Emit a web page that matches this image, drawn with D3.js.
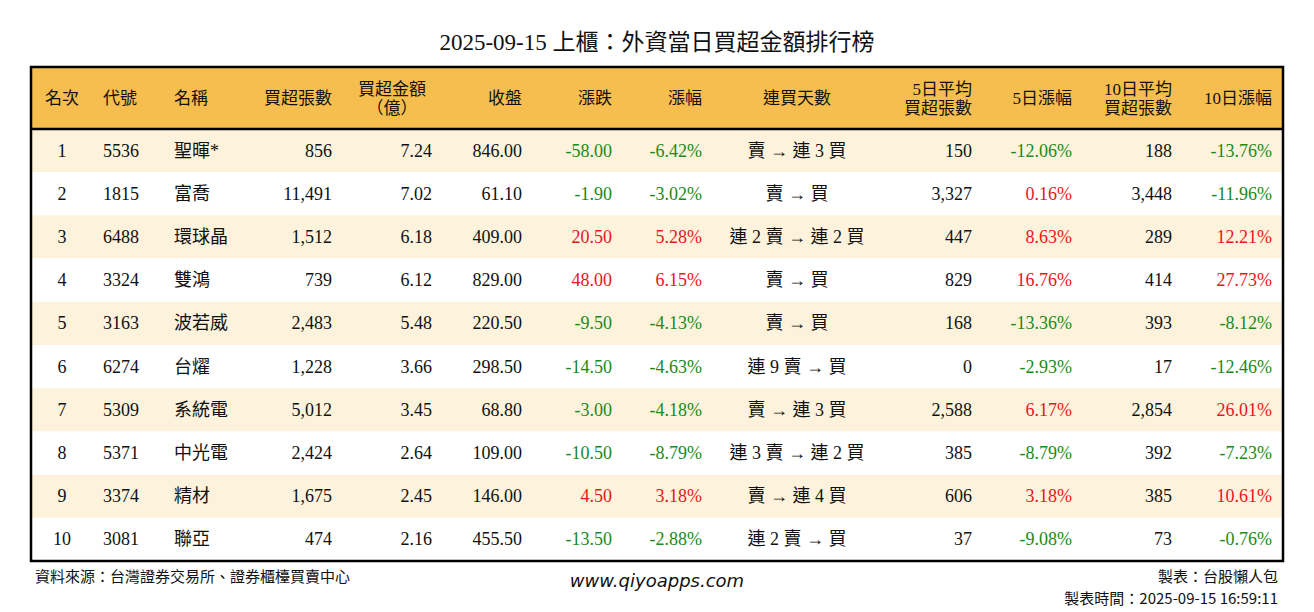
<!DOCTYPE html>
<html><head><meta charset="utf-8">
<script src="https://cdn.jsdelivr.net/npm/d3@7"></script>
<style>body{margin:0;background:#fff}</style></head>
<body><svg id="c" width="1314" height="612"></svg>
<script>
const ranks=[1,2,3,4,5,6,7,8,9,10];
const codes=["5536","1815","6488","3324","3163","6274","5309","5371","3374","3081"];
const names=["聖暉*","富喬","環球晶","雙鴻","波若威","台燿","系統電","中光電","精材","聯亞"];
const buyLots=["856","11,491","1,512","739","2,483","1,228","5,012","2,424","1,675","474"];
const buyAmt=["7.24","7.02","6.18","6.12","5.48","3.66","3.45","2.64","2.45","2.16"];
const closes=["846.00","61.10","409.00","829.00","220.50","298.50","68.80","109.00","146.00","455.50"];
const changes=[-58.00,-1.90,20.50,48.00,-9.50,-14.50,-3.00,-10.50,4.50,-13.50];
const pcts=[-6.42,-3.02,5.28,6.15,-4.13,-4.63,-4.18,-8.79,3.18,-2.88];
const streaks=["賣 → 連 3 買","賣 → 買","連 2 賣 → 連 2 買","賣 → 買","賣 → 買","連 9 賣 → 買","賣 → 連 3 買","連 3 賣 → 連 2 買","賣 → 連 4 買","連 2 賣 → 買"];
const avg5=["150","3,327","447","829","168","0","2,588","385","606","37"];
const pct5=[-12.06,0.16,8.63,16.76,-13.36,-2.93,6.17,-8.79,3.18,-9.08];
const avg10=["188","3,448","289","414","393","17","2,854","392","385","73"];
const pct10=[-13.76,-11.96,12.21,27.73,-8.12,-12.46,26.01,-7.23,10.61,-0.76];

const svg=d3.select("#c");
const F='"Liberation Serif","Noto Sans CJK TC",serif';
const L=31,R=1283,T=67,HB=129,B=561;
const y=d3.scaleBand().domain(d3.range(10)).range([HB,B]);
svg.append("text").attr("x",657).attr("y",50).attr("text-anchor","middle").attr("font-family",F).attr("font-size",23).attr("fill","#111").text("2025-09-15 上櫃：外資當日買超金額排行榜");
svg.append("rect").attr("x",L).attr("y",T).attr("width",R-L).attr("height",HB-T).attr("fill","#F6BE4F");
svg.selectAll("rect.r").data(d3.range(10)).join("rect").attr("x",L).attr("y",i=>y(i)).attr("width",R-L).attr("height",y.bandwidth()).attr("fill",i=>i%2==0?"#FDF3DC":"#fff");
svg.append("line").attr("x1",L).attr("x2",R).attr("y1",HB).attr("y2",HB).attr("stroke","#000").attr("stroke-width",2.5);
svg.append("rect").attr("x",L).attr("y",T).attr("width",R-L).attr("height",B-T).attr("fill","none").attr("stroke","#000").attr("stroke-width",2.5);

const col=v=>v>0?"#e8161b":(v<0?"#1a8a1a":"#111");
const fmt=v=>v.toFixed(2);
const cols=[
 {h:["名次"],hx:45,ha:"start",x:62,a:"middle",v:i=>ranks[i]},
 {h:["代號"],hx:103,ha:"start",x:103,a:"start",v:i=>codes[i]},
 {h:["名稱"],hx:174,ha:"start",x:174,a:"start",v:i=>names[i]},
 {h:["買超張數"],hx:332,ha:"end",x:332,a:"end",v:i=>buyLots[i]},
 {h:["買超金額","（億）"],hx:392,ha:"middle",x:432,a:"end",v:i=>buyAmt[i]},
 {h:["收盤"],hx:522,ha:"end",x:522,a:"end",v:i=>closes[i]},
 {h:["漲跌"],hx:612,ha:"end",x:612,a:"end",v:i=>fmt(changes[i]),c:i=>col(changes[i])},
 {h:["漲幅"],hx:702,ha:"end",x:702,a:"end",v:i=>fmt(pcts[i])+"%",c:i=>col(pcts[i])},
 {h:["連買天數"],hx:797,ha:"middle",x:797,a:"middle",v:i=>streaks[i]},
 {h:["5日平均","買超張數"],hx:972,ha:"end",x:972,a:"end",v:i=>avg5[i]},
 {h:["5日漲幅"],hx:1072,ha:"end",x:1072,a:"end",v:i=>fmt(pct5[i])+"%",c:i=>col(pct5[i])},
 {h:["10日平均","買超張數"],hx:1172,ha:"end",x:1172,a:"end",v:i=>avg10[i]},
 {h:["10日漲幅"],hx:1272,ha:"end",x:1272,a:"end",v:i=>fmt(pct10[i])+"%",c:i=>col(pct10[i])}
];
const hy=(T+HB)/2;
cols.forEach(c=>{
  const t=svg.append("text").attr("font-family",F).attr("font-size",17).attr("fill","#111").attr("text-anchor",c.ha);
  if(c.h.length==1) t.append("tspan").attr("x",c.hx).attr("y",hy+6).text(c.h[0]);
  else c.h.forEach((s,k)=>t.append("tspan").attr("x",c.hx).attr("y",hy-3+k*19).text(s));
  svg.selectAll(null).data(d3.range(10)).join("text").attr("x",c.x).attr("y",i=>y(i)+y.bandwidth()/2+6)
   .attr("text-anchor",c.a).attr("font-family",F).attr("font-size",18).attr("fill",i=>c.c?c.c(i):"#111").text(c.v);
});
const FS='"Noto Sans CJK TC",sans-serif';
svg.append("text").attr("x",35).attr("y",582).attr("font-family",FS).attr("font-size",15).attr("fill","#111").text("資料來源：台灣證券交易所、證券櫃檯買賣中心");
svg.append("text").attr("x",657).attr("y",587).attr("text-anchor","middle").attr("font-family",'"DejaVu Sans",sans-serif').attr("font-style","italic").attr("font-size",18).attr("fill","#111").text("www.qiyoapps.com");
svg.append("text").attr("x",1278).attr("y",582).attr("text-anchor","end").attr("font-family",FS).attr("font-size",15).attr("fill","#111").text("製表：台股懶人包");
svg.append("text").attr("x",1278).attr("y",604).attr("text-anchor","end").attr("font-family",FS).attr("font-size",15).attr("fill","#111").text("製表時間：2025-09-15 16:59:11");
</script></body></html>
